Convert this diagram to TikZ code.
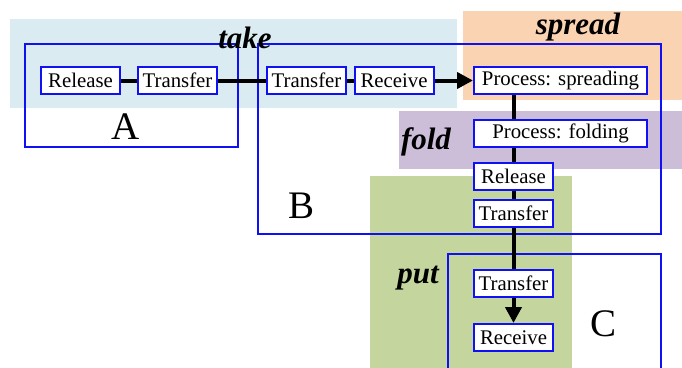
\documentclass[tikz,border=0pt]{standalone}
\usepackage{fontspec}
\setmainfont{Liberation Serif}
\usetikzlibrary{arrows.meta}
\pgfdeclarelayer{back}
\pgfdeclarelayer{mid}
\pgfsetlayers{back,mid,main}
\definecolor{takebg}{HTML}{DAECF2}
\definecolor{spreadbg}{HTML}{FAD3B3}
\definecolor{foldbg}{HTML}{CCBED8}
\definecolor{putbg}{HTML}{C4D69E}
\definecolor{boxblue}{HTML}{1010F5}
\begin{document}
\begin{tikzpicture}[x=1pt,y=-1pt,
  stepbox/.style={draw=boxblue, line width=2pt, fill=white, minimum width=79pt, minimum height=27pt, inner xsep=5pt, inner ysep=0pt, font=\fontsize{20.8}{24}\selectfont},
  procbox/.style={stepbox, minimum width=173pt},
  frame/.style={draw=boxblue, line width=2pt},
  phase/.style={font=\fontsize{31}{36}\selectfont\bfseries\itshape, anchor=base, inner sep=0pt},
  biglabel/.style={font=\fontsize{39}{44}\selectfont, anchor=base, inner sep=0pt},
  link/.style={line width=4pt},
  arrowlink/.style={link, -{Triangle[length=16pt,width=16pt]}}]
\useasboundingbox (0,0) rectangle (682,367);
\clip (0,0) rectangle (682,367);

% step nodes
\node[stepbox] (rel1) at (80.5,80.5) {Release};
\node[stepbox] (tr1) at (177.5,80.5) {Transfer};
\node[stepbox] (tr2) at (306.5,80.5) {Transfer};
\node[stepbox] (rec1) at (394,80.5) {Receive};
\node[procbox] (ps) at (560.5,80.5) {Process: spreading};
\node[procbox] (pf) at (560.5,133.5) {Process: folding};
\node[stepbox] (rel2) at (513.5,176.5) {Release};
\node[stepbox] (tr3) at (513.5,213.5) {Transfer};
\node[stepbox] (tr4) at (513.5,283) {Transfer};
\node[stepbox] (rec2) at (513.5,337.5) {Receive};

% labels
\node[phase] (take) at (245,48) {take};
\node[phase] (spread) at (578,34) {spread};
\node[phase] (fold) at (426,149) {fold};
\node[phase] (put) at (418,283) {put};
\node[biglabel] (la) at (126,139) {A};
\node[biglabel] (lb) at (302,218) {B};
\node[biglabel] (lc) at (603,336) {C};

\begin{pgfonlayer}{back}
  \fill[takebg] (10,19) rectangle (457,108);
  \fill[spreadbg] (463,11) rectangle (682,100);
  \fill[foldbg] (399,111) rectangle (682,169);
  \fill[putbg] (370,176) rectangle (572,370);
  \draw[frame] (25,44) rectangle (238,147);
  \draw[frame] (258,44) rectangle (661,234);
  \draw[frame] (448,254) rectangle (661,380);
\end{pgfonlayer}

\begin{pgfonlayer}{mid}
  \draw[link] (rel1) -- (tr1);
  \draw[link] (tr1) -- (tr2);
  \draw[link] (tr2) -- (rec1);
  \draw[arrowlink] (rec1) -- (ps);
  \draw[link] (ps.south -| rel2) -- (pf.north -| rel2);
  \draw[link] (pf.south -| rel2) -- (rel2);
  \draw[link] (rel2) -- (tr3);
  \draw[link] (tr3) -- (tr4);
  \draw[arrowlink] (tr4) -- (rec2);
\end{pgfonlayer}
\end{tikzpicture}
\end{document}
